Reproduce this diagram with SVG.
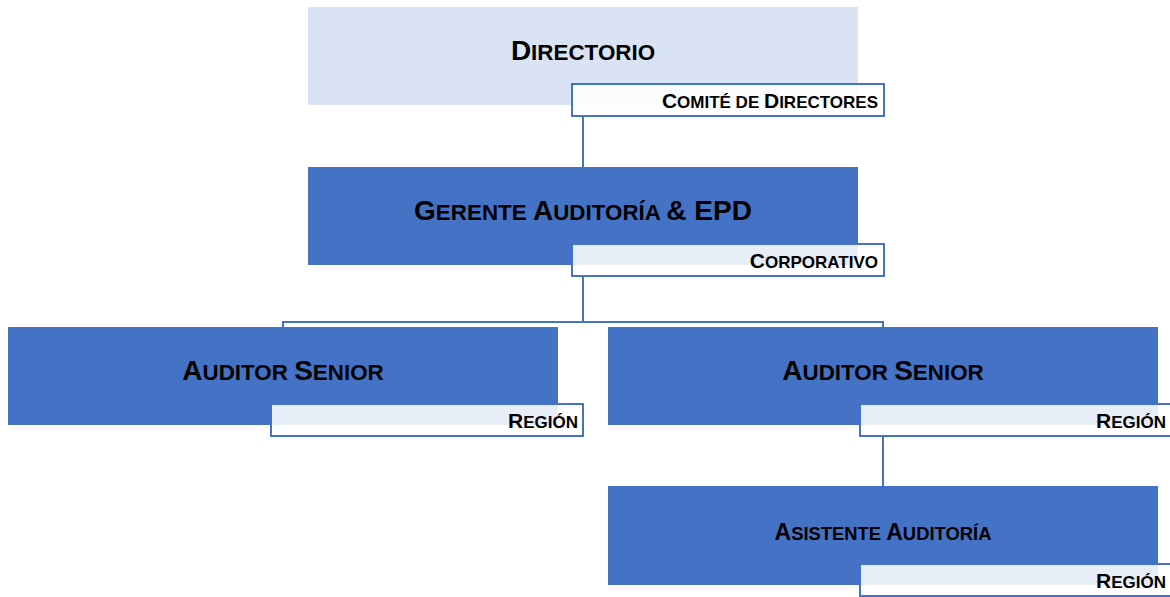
<svg xmlns="http://www.w3.org/2000/svg" width="1170" height="597" viewBox="0 0 1170 597">
<style>
.box{fill:#4472C4}
.top{fill:#DAE3F3}
.lbl{fill:#FFFFFF;fill-opacity:0.88;stroke:#4472C4;stroke-width:2}
.t{font-family:"Liberation Sans",Arial,sans-serif;font-weight:bold;fill:#000}
.big{font-size:28px}
.big .s{font-size:22.4px}
.mid{font-size:23px}
.mid .s{font-size:18.4px}
.sm{font-size:21px}
.sm .s{font-size:17px}
.con{fill:none;stroke:#4472C4;stroke-width:2}
</style>
<rect width="1170" height="597" fill="#FFFFFF"/>
<g id="connectors">
<path class="con" d="M583,116 V167"/>
<path class="con" d="M583,276 V322 M283,327 V322 H883 V327"/>
<path class="con" d="M883,436 V486"/>
</g>
<g id="directorio">
<rect class="top" x="308" y="7" width="550" height="98"/>
<text class="t big" x="583" y="60" text-anchor="middle">D<tspan class="s">IRECTORIO</tspan></text>
<rect class="lbl" x="572" y="84" width="312" height="32"/>
<text class="t sm" x="878" y="108" text-anchor="end">C<tspan class="s">OMITÉ DE </tspan>D<tspan class="s">IRECTORES</tspan></text>
</g>
<g id="gerente">
<rect class="box" x="308" y="167" width="550" height="98"/>
<text class="t big" x="583" y="220" text-anchor="middle">G<tspan class="s">ERENTE </tspan>A<tspan class="s">UDITORÍA </tspan>&amp; EPD</text>
<rect class="lbl" x="572" y="244" width="312" height="32"/>
<text class="t sm" x="878" y="268" text-anchor="end">C<tspan class="s">ORPORATIVO</tspan></text>
</g>
<g id="auditor-left">
<rect class="box" x="8" y="327" width="550" height="98"/>
<text class="t big" x="283" y="380" text-anchor="middle">A<tspan class="s">UDITOR </tspan>S<tspan class="s">ENIOR</tspan></text>
<rect class="lbl" x="271" y="404" width="312" height="32"/>
<text class="t sm" x="578" y="428" text-anchor="end">R<tspan class="s">EGIÓN</tspan></text>
</g>
<g id="auditor-right">
<rect class="box" x="608" y="327" width="550" height="98"/>
<text class="t big" x="883" y="380" text-anchor="middle">A<tspan class="s">UDITOR </tspan>S<tspan class="s">ENIOR</tspan></text>
<rect class="lbl" x="860" y="404" width="312" height="32"/>
<text class="t sm" x="1166" y="428" text-anchor="end">R<tspan class="s">EGIÓN</tspan></text>
</g>
<g id="asistente">
<rect class="box" x="608" y="486" width="550" height="99"/>
<text class="t mid" x="883" y="540" text-anchor="middle">A<tspan class="s">SISTENTE </tspan>A<tspan class="s">UDITORÍA</tspan></text>
<rect class="lbl" x="860" y="564" width="312" height="32"/>
<text class="t sm" x="1166" y="588" text-anchor="end">R<tspan class="s">EGIÓN</tspan></text>
</g>
</svg>
